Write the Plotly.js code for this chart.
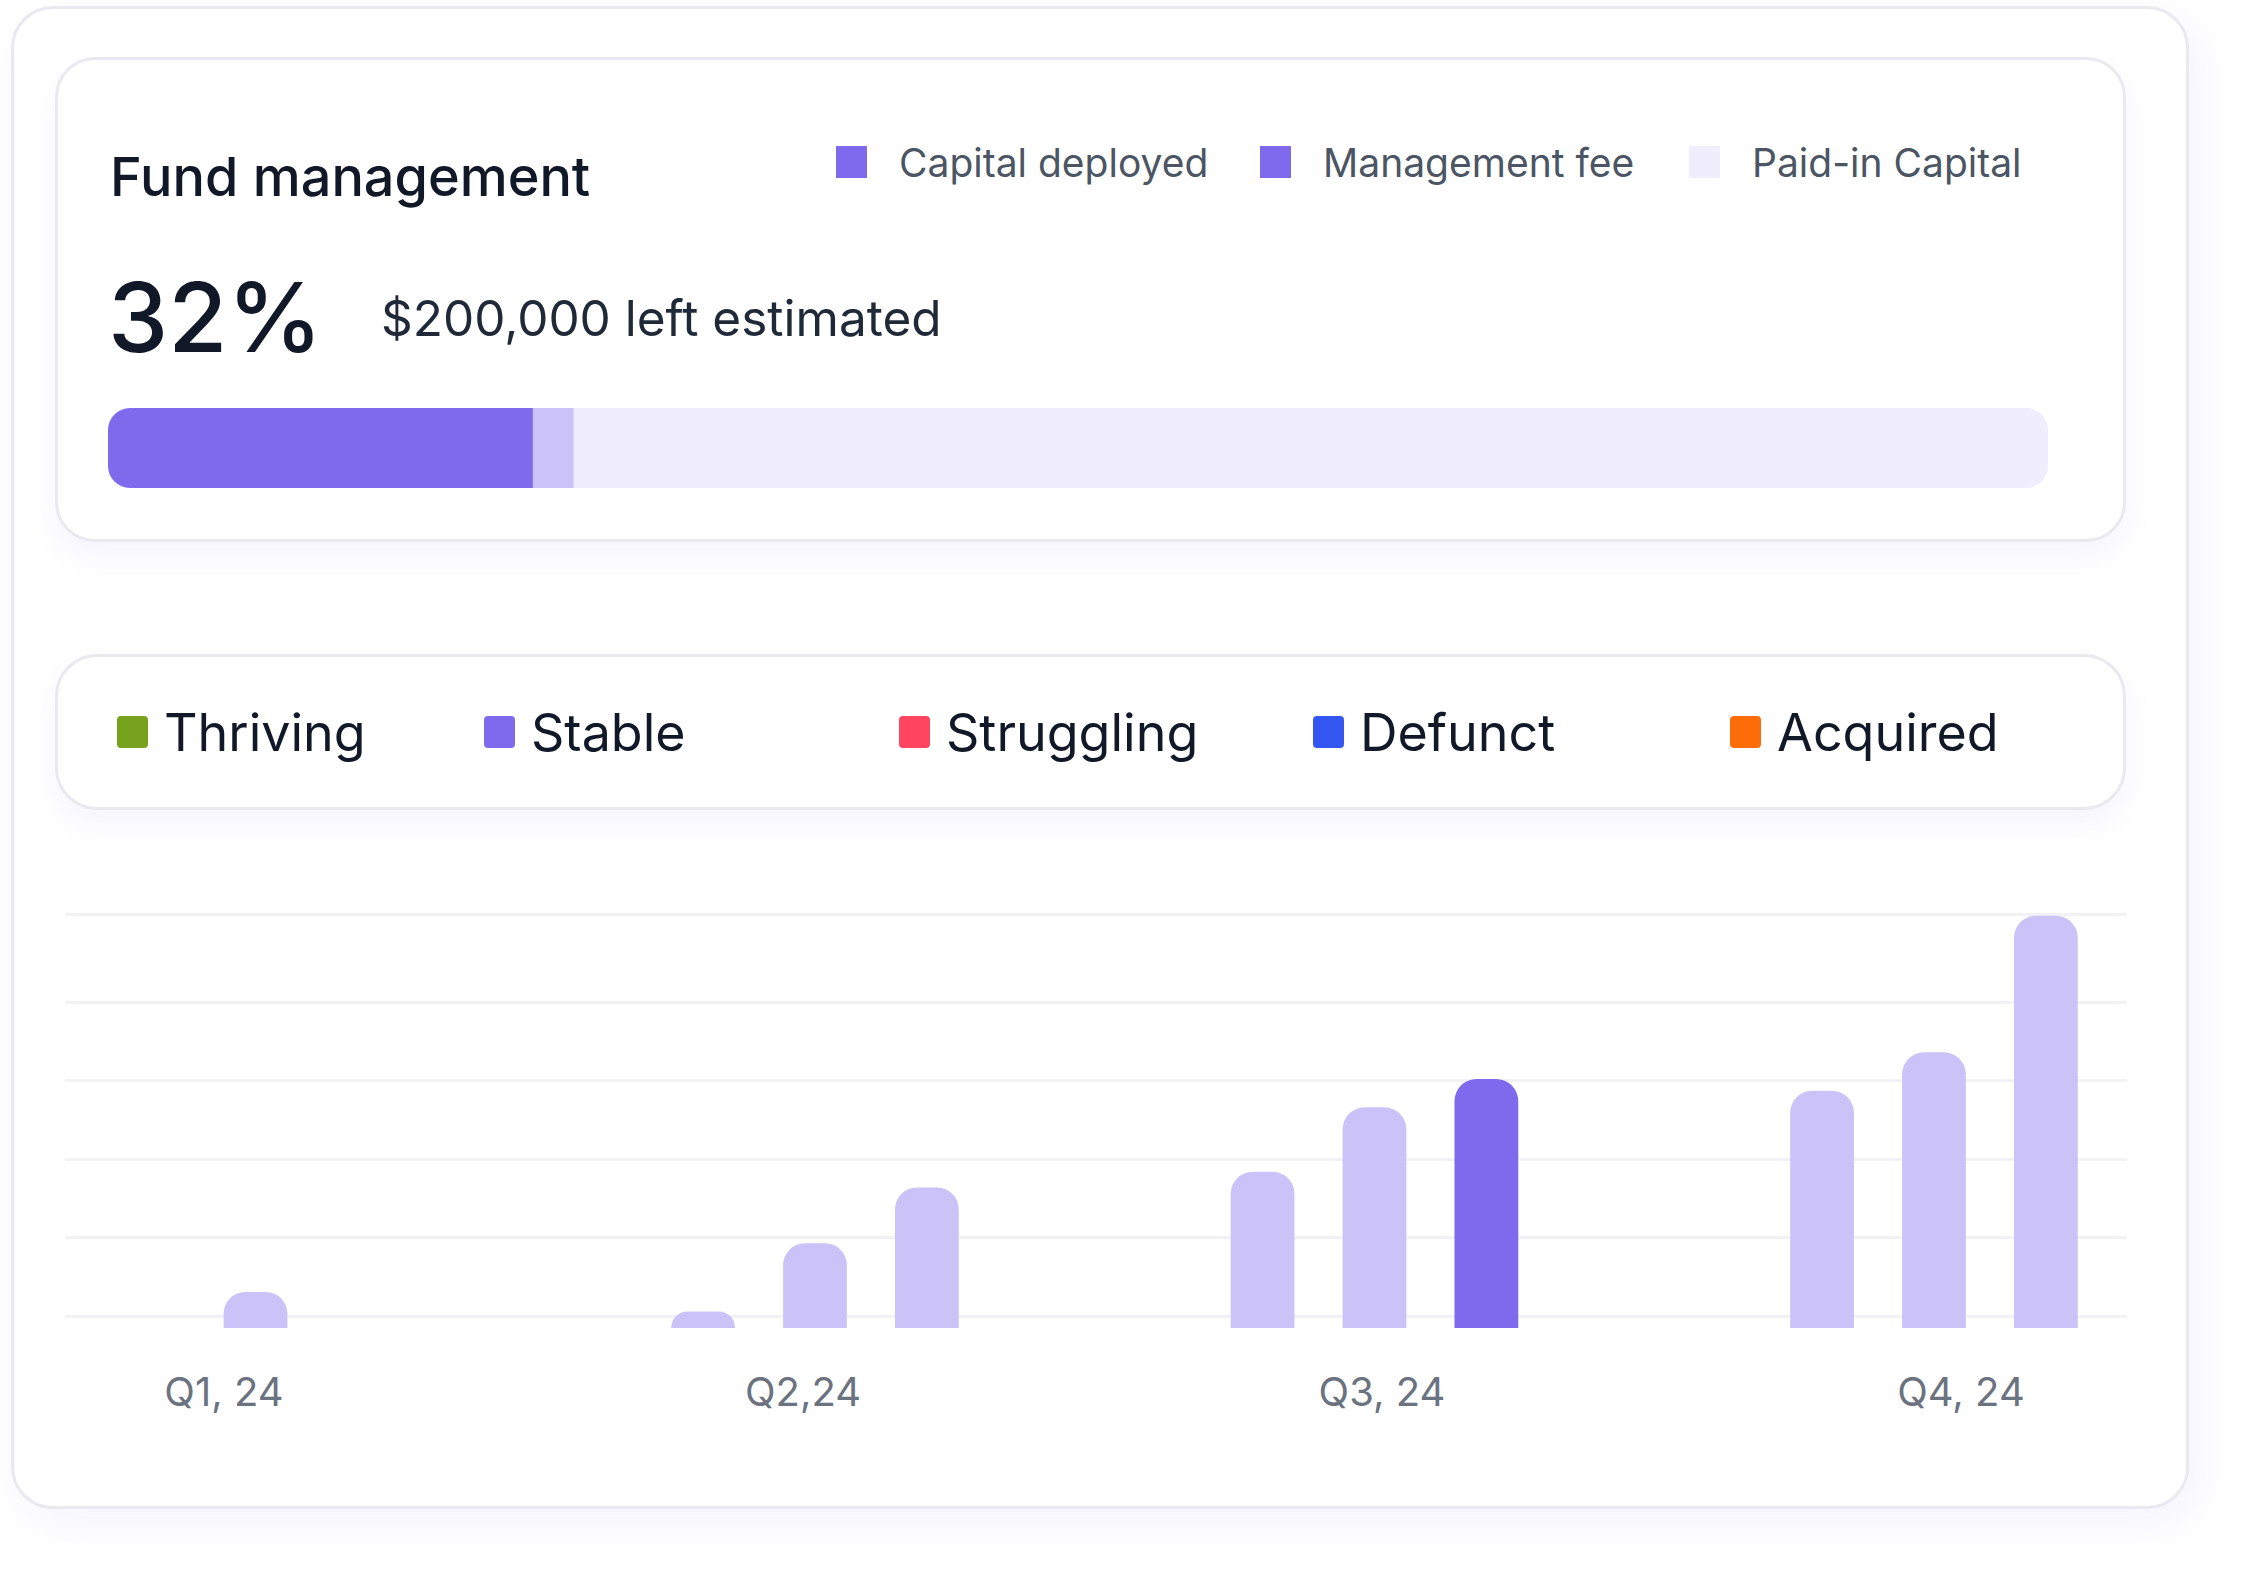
<!DOCTYPE html>
<html><head><meta charset="utf-8">
<script src="https://cdn.plot.ly/plotly-3.0.1.min.js"></script>
<style>
html,body{margin:0;padding:0;background:#fff;width:2252px;height:1584px;overflow:hidden}
.card{position:absolute;box-sizing:border-box;background:#fff;border:3px solid #E9E9EF;}
#outer{left:11px;top:6px;width:2178px;height:1503px;border-radius:42px;box-shadow:10px 14px 40px rgba(127,106,238,0.08);}
#fund{left:55px;top:57px;width:2071px;height:485px;border-radius:40px;box-shadow:0 14px 30px rgba(127,106,238,0.07);}
#status{left:55px;top:654px;width:2071px;height:156px;border-radius:42px;box-shadow:0 14px 30px rgba(127,106,238,0.07);}
#chart{position:absolute;left:0;top:0;width:2252px;height:1584px;}
</style></head>
<body>
<div id="outer" class="card"></div>
<div id="fund" class="card"></div>
<div id="status" class="card"></div>
<div id="chart"></div>
<script>
// ---------------- DATA ----------------
const fundTitle = 'Fund management';
const fundLabels = ['Capital deployed', 'Management fee', 'Paid-in Capital'];
const capitalDeployed = 21.9;   // % of paid-in capital
const managementFee = 2.1;      // % of paid-in capital
const paidInCapital = 100;      // total paid-in capital (%)
const headlinePct = '32%';
const leftEstimated = '$200,000 left estimated';

const statusLabels = ['Thriving', 'Stable', 'Struggling', 'Defunct', 'Acquired'];

const quarters = ['Q1, 24', 'Q2,24', 'Q3, 24', 'Q4, 24'];
const month1 = [0, 2.1, 19.9, 30.2];
const month2 = [4.6, 10.8, 28.1, 35.1];
const month3 = [0, 17.9, 31.7, 52.5];
const highlightQuarter = 'Q3, 24';
const gridValues = [1.5, 11.5, 21.5, 31.5, 41.5, 52.7];

// ---------------- STYLE / LAYOUT ----------------
const W = 2252, H = 1584;
const px = x => x / W;
const py = y => 1 - y / H;
const FONT = 'Inter, "Noto Sans", sans-serif';
const DARK = '#7F6AEE', MID = '#CBC3F7', LIGHT = '#F0EEFC';
const fundLegendColors = [DARK, DARK, LIGHT];
const fundLegendX = [836, 1260, 1689];
const statusColors = ['#76A21E', '#7F6AEE', '#FF4560', '#3355F0', '#FF6C0A'];
const statusX = [117, 484, 899, 1313, 1730];

function rr(x0, y0, x1, y1, r) {
  const P = (x, y) => `${px(x)},${py(y)}`;
  return `M${P(x0 + r, y0)} L${P(x1 - r, y0)} Q${P(x1, y0)} ${P(x1, y0 + r)} L${P(x1, y1 - r)} Q${P(x1, y1)} ${P(x1 - r, y1)} L${P(x0 + r, y1)} Q${P(x0, y1)} ${P(x0, y1 - r)} L${P(x0, y0 + r)} Q${P(x0, y0)} ${P(x0 + r, y0)} Z`;
}

const traces = [
  // progress bar (axis origin placed at the end of the deployed segment)
  {type: 'bar', orientation: 'h', xaxis: 'x3', yaxis: 'y3', y: [0],
   x: [paidInCapital - capitalDeployed],
   width: [1], offset: -0.5, marker: {color: LIGHT, cornerradius: 22}, name: fundLabels[2]},
  {type: 'bar', orientation: 'h', xaxis: 'x3', yaxis: 'y3', y: [0],
   x: [managementFee],
   width: [1], offset: -0.5, marker: {color: MID, cornerradius: 0}, name: fundLabels[1]},
  {type: 'bar', orientation: 'h', xaxis: 'x3', yaxis: 'y3', y: [0],
   x: [-capitalDeployed],
   width: [1], offset: -0.5, marker: {color: DARK, cornerradius: 22}, name: fundLabels[0]},
  // quarterly bars
  {type: 'bar', x: quarters, y: month1, marker: {color: MID, cornerradius: 22}, name: 'Month 1'},
  {type: 'bar', x: quarters, y: month2, marker: {color: MID, cornerradius: 22}, name: 'Month 2'},
  {type: 'bar', x: quarters, y: month3, marker: {color: quarters.map(q => q === highlightQuarter ? DARK : MID), cornerradius: 22}, name: 'Month 3'},
  // carrier for the quarter labels axis
  {type: 'scatter', mode: 'markers', xaxis: 'x2', yaxis: 'y', x: quarters.map((q, i) => i), y: quarters.map(() => 0),
   marker: {opacity: 0, size: 1}, hoverinfo: 'skip', showlegend: false}
];

const annotations = [
  {text: fundTitle, x: px(108), y: py(176), font: {size: 54, weight: 500, color: '#111827'}},
  {text: headlinePct, x: px(106), y: py(317), font: {size: 96, weight: 500, color: '#111827'}},
  {text: leftEstimated, x: px(379), y: py(318), font: {size: 49.5, weight: 400, color: '#1F2937'}},
  ...fundLabels.map((t, i) => ({text: t, x: px(fundLegendX[i] + 61), y: py(162), font: {size: 39, color: '#4B5563'}})),
  ...statusLabels.map((t, i) => ({text: t, x: px(statusX[i] + 45), y: py(732), font: {size: 52, color: '#111827'}}))
].map(a => Object.assign({xref: 'paper', yref: 'paper', xanchor: 'left', yanchor: 'middle', showarrow: false}, a,
  {font: Object.assign({family: FONT}, a.font)}));

const shapes = [
  ...fundLabels.map((t, i) => ({type: 'rect', xref: 'paper', yref: 'paper',
    x0: px(fundLegendX[i]), x1: px(fundLegendX[i] + 31), y0: py(178), y1: py(146),
    fillcolor: fundLegendColors[i], line: {width: 0}})),
  ...statusLabels.map((t, i) => ({type: 'path', xref: 'paper', yref: 'paper',
    path: rr(statusX[i], 716, statusX[i] + 31, 748, 4), fillcolor: statusColors[i], line: {width: 0}}))
];

const layout = {
  width: W, height: H,
  margin: {l: 0, r: 0, t: 0, b: 0, pad: 0},
  paper_bgcolor: 'rgba(0,0,0,0)', plot_bgcolor: 'rgba(0,0,0,0)',
  font: {family: FONT},
  showlegend: false, hovermode: false,
  barmode: 'group', bargap: 0.4, bargroupgap: 0.43,
  xaxis: {domain: [px(65), px(2127)], type: 'category', range: [-0.3405, 3.345], anchor: 'y',
    showticklabels: false, showgrid: false, zeroline: false, showline: false, ticks: '', fixedrange: true},
  yaxis: {domain: [py(1328), py(911)], range: [0, 53.1], anchor: 'x', tickvals: gridValues,
    showticklabels: false, showgrid: true, gridcolor: '#F2F2F6', gridwidth: 3, zeroline: false, showline: false, ticks: ''},
  xaxis2: {overlaying: 'x', anchor: 'y', side: 'bottom', range: [-0.2746, 3.2867],
    tickvals: quarters.map((q, i) => i), ticktext: quarters, showgrid: false, zeroline: false, showline: false, ticks: '',
    tickfont: {family: FONT, size: 40, color: '#6B7280'}, ticklabelstandoff: 37},
  xaxis3: {domain: [px(108), px(2048)], range: [-capitalDeployed, paidInCapital - capitalDeployed], anchor: 'y3', visible: false},
  yaxis3: {domain: [py(488), py(408)], range: [-0.5, 0.5], anchor: 'x3', visible: false},
  annotations, shapes
};

Plotly.newPlot('chart', traces, layout, {staticPlot: true, displayModeBar: false});
</script>
</body></html>
